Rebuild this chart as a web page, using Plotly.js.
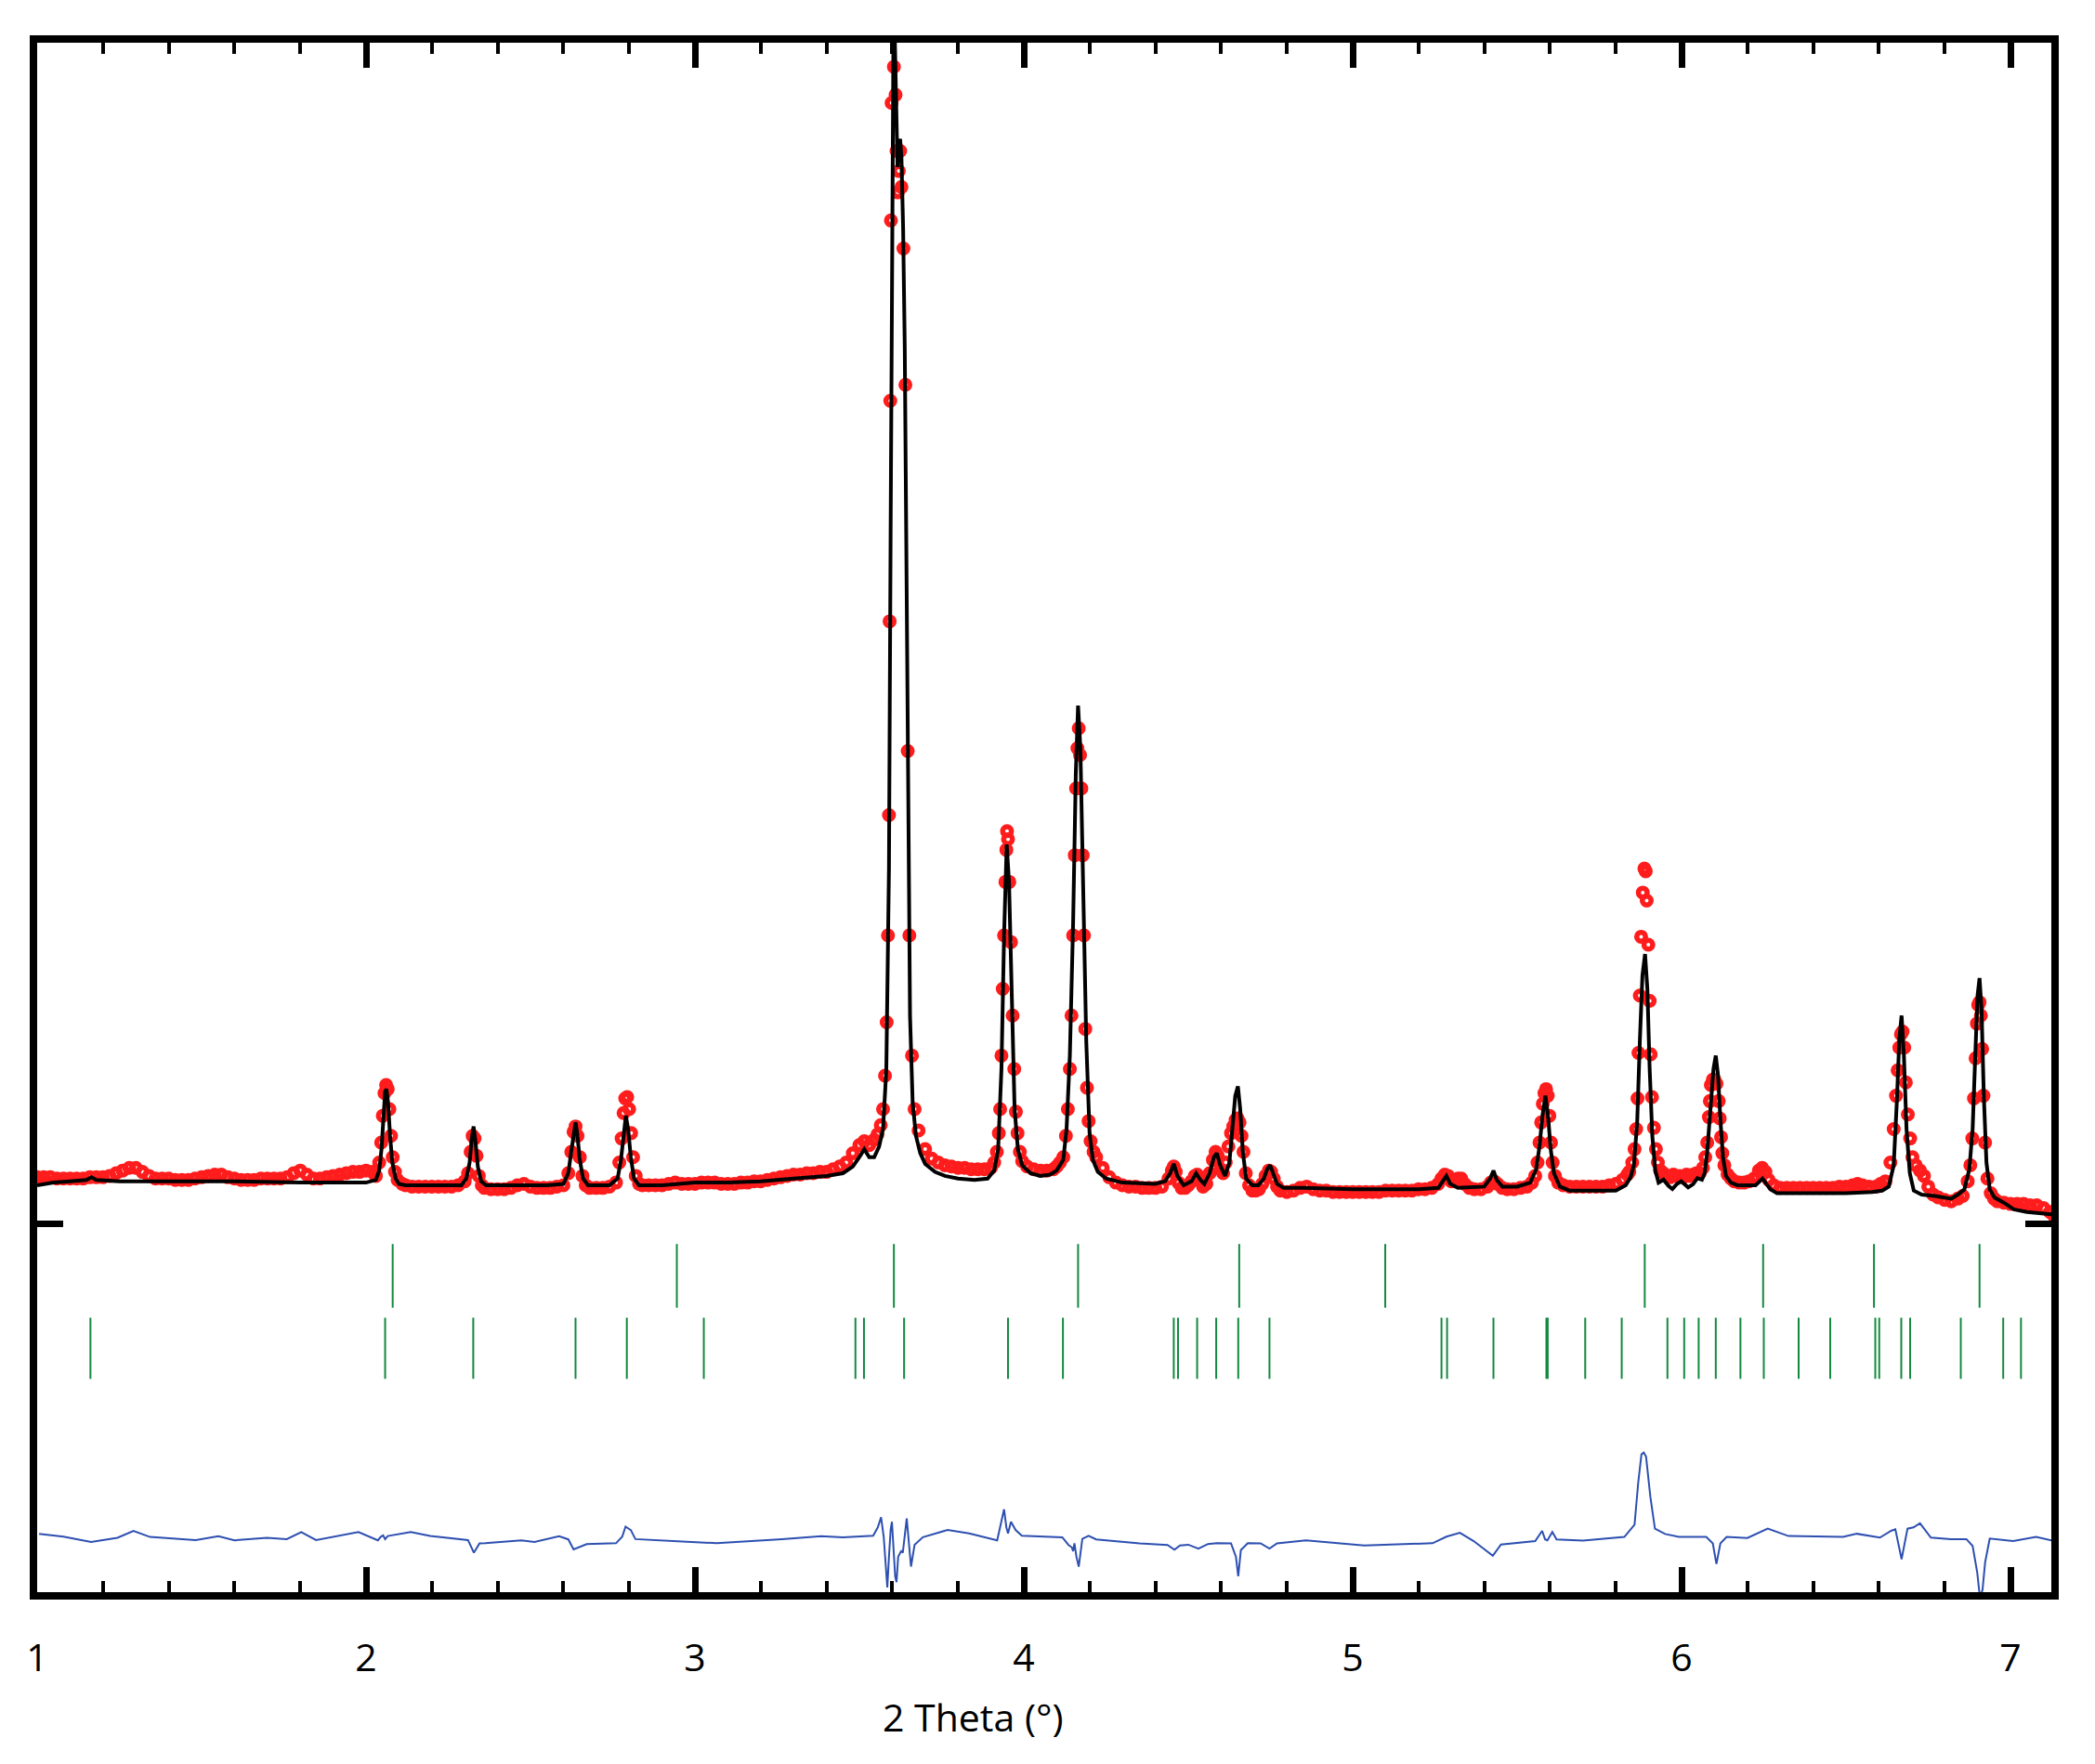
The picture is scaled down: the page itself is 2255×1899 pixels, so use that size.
<!DOCTYPE html>
<html>
<head>
<meta charset="utf-8">
<script src="https://cdn.plot.ly/plotly-3.0.1.min.js"></script>
<style>html,body{margin:0;padding:0;background:#fff;}#plot{width:2255px;height:1899px;}</style>
</head>
<body>
<div id="plot"></div>
<script>
// ---------- DATA (2-theta in degrees, intensity in arbitrary counts) ----------
const obsX = [1.00,1.02,1.04,1.06,1.08,1.10,1.12,1.14,1.16,1.18,1.20,1.22,1.24,1.26,1.28,1.30,1.32,1.34,1.36,1.38,1.40,1.42,1.44,1.46,1.48,1.50,1.52,1.54,1.56,1.58,1.60,1.62,1.64,1.66,1.68,1.70,1.72,1.74,1.76,1.78,1.80,1.82,1.84,1.86,1.88,1.90,1.92,1.94,1.96,1.98,2.00,2.02,
2.03,2.04,2.046,2.051,2.056,2.061,2.066,2.071,2.076,2.081,2.088,2.096,2.11,
2.12,2.14,2.16,2.18,2.20,2.22,2.24,2.26,2.28,2.30,
2.31,2.318,2.324,2.330,2.336,2.343,2.352,2.36,
2.38,2.40,2.42,2.44,2.46,2.48,2.50,2.52,2.54,2.56,2.58,2.60,
2.615,2.624,2.631,2.637,2.643,2.650,2.658,2.668,2.68,
2.70,2.72,2.74,2.76,
2.770,2.777,2.783,2.788,2.794,2.800,2.806,2.812,2.820,2.83,
2.84,2.86,2.88,2.90,2.92,2.94,2.96,2.98,3.00,3.02,3.04,3.06,3.08,3.10,3.12,3.14,3.16,3.18,3.20,3.22,3.24,3.26,3.28,3.30,3.32,3.34,3.36,3.38,3.40,3.42,3.44,3.46,
3.48,3.50,3.515,3.53,3.545,3.555,3.565,3.572,3.578,3.583,3.587,3.590,3.592,3.594,3.596,3.598,3.605,3.610,3.613,3.617,3.620,3.624,3.628,3.634,3.640,3.647,3.652,3.660,3.668,3.68,3.70,3.72,3.74,3.76,3.78,3.80,3.82,3.84,3.86,3.88,3.90,
3.910,3.918,3.924,3.928,3.932,3.936,3.940,3.944,3.947,3.949,3.952,3.956,3.961,3.966,3.971,3.976,3.981,3.988,3.995,4.01,4.03,4.05,4.07,4.09,4.10,
4.110,4.120,4.128,4.134,4.140,4.145,4.150,4.155,4.159,4.163,4.167,4.171,4.175,4.179,4.183,4.187,4.192,4.197,4.203,4.212,4.22,4.24,4.26,4.28,4.30,4.32,4.34,4.36,4.38,4.40,4.42,4.44,
4.450,4.456,4.462,4.470,4.480,4.490,4.500,4.510,4.520,4.527,4.535,4.545,4.555,4.565,4.575,4.583,4.590,4.598,4.606,4.614,4.622,4.630,4.637,4.644,4.650,4.656,4.662,4.668,4.675,4.685,4.695,4.705,4.715,4.725,4.735,4.745,4.752,4.760,4.770,4.78,4.80,4.82,4.84,4.86,4.88,4.90,
4.92,4.94,4.96,4.98,5.00,5.02,5.04,5.06,5.08,5.10,5.12,5.14,5.16,5.18,5.20,5.22,5.24,5.26,
5.270,5.280,5.290,5.300,5.310,5.320,5.330,5.340,5.355,5.37,5.39,5.41,5.420,5.430,5.440,5.455,5.47,5.49,5.51,5.53,5.545,
5.555,5.562,5.568,5.573,5.578,5.583,5.588,5.593,5.598,5.603,5.608,5.615,5.625,5.64,
5.66,5.68,5.70,5.72,5.74,5.76,5.78,5.80,5.82,5.835,
5.841,5.850,5.857,5.862,5.866,5.869,5.873,5.877,5.882,5.887,5.891,5.894,5.899,5.903,5.906,5.910,5.916,5.922,5.928,5.935,5.945,5.955,5.965,5.975,5.985,5.995,6.005,6.015,6.025,6.035,6.045,6.055,6.065,6.072,
6.078,6.083,6.086,6.089,6.095,6.100,6.106,6.113,6.116,6.120,6.124,6.130,6.140,6.15,6.16,6.175,6.19,6.205,6.22,6.235,6.245,6.255,6.265,6.28,6.30,6.32,6.34,6.36,6.38,6.40,6.42,6.44,6.46,6.48,6.50,6.52,6.535,6.55,6.57,6.59,6.605,
6.62,6.635,6.645,6.652,6.657,6.662,6.667,6.672,6.677,6.682,6.688,6.695,6.702,6.712,6.725,6.737,6.75,6.765,6.78,6.80,6.82,6.84,6.855,
6.870,6.878,6.884,6.889,6.894,6.898,6.902,6.906,6.910,6.914,6.918,6.923,6.930,6.94,6.95,6.96,6.98,7.00,7.02,7.04,7.06,7.08,7.10,7.12,7.133];

const obsY = [352,352,352,342,342,342,342,342,352,352,352,362,382,402,422,422,392,362,342,342,342,332,332,332,342,352,362,372,372,352,342,332,332,332,342,342,342,342,352,382,402,372,342,342,352,362,372,382,392,392,402,392,
362,462,612,812,982,1042,1012,862,662,502,392,332,302,
292,282,282,282,282,282,282,282,292,322,
382,542,662,642,512,362,292,272,
262,262,262,272,292,302,282,272,272,272,282,292,
382,542,692,732,662,502,362,292,272,
272,272,282,312,
462,642,832,942,952,862,682,502,362,302,
292,292,292,292,302,312,302,302,302,312,312,312,302,302,302,312,312,322,322,332,342,352,362,372,372,382,382,392,392,412,432,462,
532,592,622,592,632,672,742,862,1112,1512,2162,3062,4512,6162,7512,8392,8662,8452,8032,7722,7882,8032,7762,7302,6282,3542,2162,1262,862,702,562,492,462,442,432,422,422,412,412,412,422,
462,542,682,862,1262,1762,2162,2562,2802,2942,2882,2562,2112,1562,1162,842,682,542,472,432,412,402,402,412,432,
462,502,662,862,1162,1562,2162,2762,3262,3562,3712,3512,3262,2762,2162,1462,1022,772,622,542,502,422,352,312,292,282,282,272,272,272,282,342,
402,432,392,312,272,272,292,322,362,372,332,282,302,382,482,542,512,412,382,462,582,682,732,782,792,762,662,542,382,292,252,252,262,302,362,402,392,342,282,252,242,252,272,282,262,252,
252,242,242,242,242,242,242,242,242,252,252,252,252,252,262,262,272,302,
342,372,362,322,322,342,342,302,272,262,262,282,312,322,302,272,262,262,272,282,312,
362,462,612,762,902,982,1012,962,812,612,462,362,312,292,
282,282,282,282,282,282,292,302,332,372,
392,462,562,712,942,1282,1712,2152,2482,2662,2642,2422,2092,1672,1272,952,722,562,462,402,382,362,352,372,362,362,352,372,362,372,382,382,422,502,
612,802,922,1042,1082,1082,1052,922,792,652,532,442,372,342,322,312,312,322,342,402,422,392,332,292,272,272,272,272,272,272,272,272,272,282,282,292,302,292,282,282,302,
322,462,712,962,1152,1322,1422,1442,1322,1062,822,642,502,442,402,362,282,222,202,182,172,192,212,
322,442,642,942,1242,1502,1642,1662,1562,1312,962,612,342,232,192,172,162,152,152,152,142,142,122,92,62];

const calcX = [1.00,1.05,1.10,1.15,1.165,1.18,1.25,1.40,1.60,1.80,2.00,2.03,2.040,2.047,2.053,2.058,2.062,2.067,2.073,2.080,2.090,2.10,2.12,2.20,2.29,2.305,2.315,2.321,2.327,2.333,2.340,2.350,2.365,2.45,2.55,2.60,2.615,2.625,2.632,2.637,2.642,2.650,2.660,2.675,2.74,2.765,2.775,2.783,2.790,2.797,2.805,2.815,2.83,2.90,3.00,3.10,3.20,3.30,3.40,3.45,3.48,3.50,3.515,3.530,3.545,3.560,3.572,3.582,3.590,3.595,3.599,3.602,3.604,3.607,3.611,3.616,3.620,3.624,3.628,3.633,3.638,3.643,3.648,3.654,3.662,3.672,3.685,3.70,3.73,3.76,3.80,3.85,3.89,3.91,3.922,3.932,3.940,3.948,3.955,3.963,3.972,3.982,3.995,4.02,4.05,4.08,4.10,4.12,4.13,4.14,4.15,4.158,4.165,4.172,4.180,4.190,4.200,4.210,4.225,4.25,4.30,4.40,4.43,4.445,4.456,4.467,4.486,4.51,4.524,4.537,4.549,4.565,4.578,4.587,4.597,4.612,4.625,4.635,4.643,4.651,4.658,4.666,4.676,4.695,4.713,4.730,4.740,4.749,4.758,4.770,4.79,4.85,5.00,5.10,5.20,5.26,5.275,5.285,5.297,5.32,5.40,5.418,5.428,5.438,5.455,5.50,5.54,5.558,5.568,5.577,5.586,5.594,5.602,5.612,5.63,5.66,5.70,5.80,5.83,5.845,5.855,5.865,5.873,5.881,5.889,5.896,5.903,5.911,5.920,5.93,5.945,5.96,5.972,5.985,5.999,6.02,6.035,6.048,6.062,6.070,6.078,6.088,6.097,6.104,6.111,6.118,6.126,6.135,6.15,6.17,6.20,6.225,6.238,6.246,6.255,6.27,6.29,6.40,6.50,6.58,6.61,6.63,6.645,6.655,6.662,6.669,6.676,6.684,6.694,6.706,6.73,6.77,6.82,6.84,6.86,6.875,6.885,6.893,6.900,6.906,6.912,6.919,6.927,6.937,6.951,6.98,7.01,7.05,7.10,7.133];

const calcY = [292,312,322,332,352,332,322,322,322,312,312,332,402,562,812,992,1012,912,662,462,342,302,292,292,292,342,462,632,732,612,432,322,292,292,292,302,382,562,712,762,682,482,342,292,292,342,482,682,812,712,502,342,292,292,312,312,322,342,362,382,432,502,562,502,502,582,712,1162,2662,5162,7362,8762,9062,8962,8462,7912,8082,8122,7982,7462,6562,4962,2962,1562,912,662,532,452,392,362,342,332,342,402,562,1162,2162,2842,2562,1662,862,562,442,382,362,372,402,482,712,1262,2262,3362,3882,3562,2662,1362,682,482,392,342,312,302,322,382,452,362,292,322,382,332,302,382,502,532,442,362,462,712,962,1032,862,542,342,292,292,342,412,442,382,302,272,272,262,262,262,272,322,362,302,272,282,342,402,332,282,282,312,412,582,812,962,812,562,382,282,252,252,252,292,352,442,762,1362,1862,2022,1762,1162,662,402,312,334,288,264,300,322,276,300,345,334,380,542,862,1162,1262,1112,782,502,362,312,292,292,292,322,342,312,262,232,232,232,242,252,282,442,942,1382,1562,1262,712,382,252,222,212,192,222,262,412,712,1262,1712,1842,1612,962,462,262,202,162,112,92,82,72];

const diffX = [1.006,1.08,1.164,1.244,1.293,1.343,1.482,1.551,1.600,1.699,1.759,1.803,1.848,1.977,2.036,2.045,2.052,2.058,2.066,2.136,2.195,2.274,2.310,2.328,2.345,2.363,2.472,2.512,2.587,2.615,2.631,2.671,2.760,2.779,2.789,2.805,2.819,2.948,3.067,3.265,3.316,3.384,3.45,3.500,3.542,3.556,3.566,3.574,3.580,3.585,3.590,3.595,3.599,3.604,3.609,3.613,3.618,3.627,3.632,3.644,3.650,3.657,3.668,3.693,3.768,3.834,3.919,3.940,3.947,3.952,3.961,3.975,3.994,4.117,4.136,4.146,4.150,4.154,4.160,4.167,4.178,4.197,4.220,4.352,4.437,4.458,4.475,4.500,4.531,4.560,4.587,4.630,4.645,4.652,4.660,4.681,4.720,4.747,4.770,4.858,5.035,5.243,5.285,5.326,5.368,5.426,5.451,5.555,5.576,5.585,5.592,5.607,5.620,5.700,5.826,5.857,5.868,5.878,5.885,5.892,5.905,5.919,5.950,5.992,6.075,6.095,6.106,6.118,6.137,6.200,6.262,6.325,6.491,6.533,6.603,6.637,6.650,6.669,6.687,6.705,6.725,6.758,6.819,6.866,6.885,6.899,6.907,6.915,6.923,6.937,7.008,7.078,7.133];

const diffY = [-2316,-2338,-2378,-2346,-2294,-2340,-2363,-2335,-2365,-2346,-2356,-2303,-2363,-2303,-2365,-2338,-2328,-2356,-2333,-2303,-2333,-2356,-2363,-2458,-2388,-2387,-2365,-2378,-2335,-2358,-2433,-2393,-2387,-2338,-2263,-2288,-2356,-2372,-2387,-2356,-2349,-2335,-2343,-2338,-2331,-2268,-2192,-2338,-2588,-2718,-2488,-2288,-2226,-2438,-2638,-2678,-2488,-2446,-2458,-2201,-2388,-2562,-2398,-2342,-2288,-2313,-2365,-2133,-2268,-2314,-2226,-2288,-2331,-2342,-2400,-2418,-2446,-2388,-2488,-2562,-2354,-2331,-2358,-2388,-2400,-2435,-2404,-2398,-2427,-2393,-2387,-2388,-2488,-2634,-2438,-2387,-2388,-2427,-2388,-2365,-2403,-2387,-2338,-2309,-2371,-2480,-2396,-2371,-2294,-2358,-2365,-2303,-2358,-2368,-2340,-2248,-1938,-1721,-1708,-1738,-2038,-2278,-2318,-2340,-2340,-2388,-2542,-2388,-2340,-2348,-2278,-2333,-2340,-2316,-2345,-2294,-2283,-2506,-2278,-2268,-2238,-2345,-2356,-2356,-2407,-2606,-2788,-2738,-2530,-2352,-2370,-2340,-2370];

// Bragg reflection positions (2-theta, degrees)
const phase1Ticks = [2.081,2.945,3.605,4.165,4.655,5.099,5.888,6.248,6.585,6.906];
const phase2Ticks = [1.162,2.058,2.326,2.637,2.793,3.027,3.488,3.514,3.636,3.952,4.119,4.456,4.469,4.527,4.585,4.652,4.747,5.270,5.287,5.428,5.589,5.593,5.707,5.818,5.957,6.008,6.052,6.104,6.179,6.250,6.356,6.452,6.589,6.601,6.668,6.695,6.849,6.978,7.032];

const xTitle = '2 Theta (°)';

// ---------- STYLE / LAYOUT ----------
const RED = '#ff1c1c', GREEN = '#13893f', BLUE = '#2d4fb0';
const ROW1 = -386, ROW2 = -928;

const traces = [
  {x: obsX, y: obsY, type: 'scatter', mode: 'markers', name: 'Observed',
   marker: {symbol: 'circle-open', size: 9.5, color: RED, line: {width: 5.5, color: RED}}},
  {x: calcX, y: calcY, type: 'scatter', mode: 'lines', name: 'Calculated',
   line: {color: '#000', width: 4}},
  {x: phase1Ticks, y: phase1Ticks.map(() => ROW1), type: 'scatter', mode: 'markers', name: 'Phase 1',
   marker: {symbol: 'line-ns', size: 49, color: GREEN, line: {width: 2, color: GREEN}}},
  {x: phase2Ticks, y: phase2Ticks.map(() => ROW2), type: 'scatter', mode: 'markers', name: 'Phase 2',
   marker: {symbol: 'line-ns', size: 47, color: GREEN, line: {width: 2, color: GREEN}}},
  {x: diffX, y: diffY, type: 'scatter', mode: 'lines', name: 'Difference',
   line: {color: BLUE, width: 2}}
];

const layout = {
  width: 2255, height: 1899,
  margin: {l: 40, r: 47, t: 46, b: 185, pad: 0},
  paper_bgcolor: '#ffffff', plot_bgcolor: '#ffffff',
  showlegend: false,
  font: {family: 'Open Sans, sans-serif', color: '#000'},
  xaxis: {
    range: [1, 7.1243], tickmode: 'linear', tick0: 1, dtick: 1,
    showline: true, linewidth: 8, linecolor: '#000', mirror: 'ticks',
    ticks: 'inside', ticklen: 27, tickwidth: 7, tickcolor: '#000',
    minor: {ticks: 'inside', tick0: 1, dtick: 0.2, ticklen: 12, tickwidth: 4, tickcolor: '#000', showgrid: false},
    showgrid: false, zeroline: false,
    tickfont: {family: 'Open Sans, sans-serif', size: 41, color: '#000'},
    ticklabelstandoff: 28
  },
  yaxis: {
    range: [-2753, 8842], tickmode: 'array', tickvals: [0],
    showline: true, linewidth: 8, linecolor: '#000', mirror: 'ticks',
    ticks: 'inside', ticklen: 28, tickwidth: 7, tickcolor: '#000',
    showticklabels: false, showgrid: false, zeroline: false
  },
  annotations: [{
    text: xTitle, xref: 'paper', yref: 'paper', x: 0.4645, y: -0.0805,
    xanchor: 'center', yanchor: 'middle', showarrow: false,
    font: {family: 'Open Sans, sans-serif', size: 41, color: '#000'}
  }]
};

Plotly.newPlot('plot', traces, layout, {displayModeBar: false, staticPlot: true});
</script>
</body>
</html>
